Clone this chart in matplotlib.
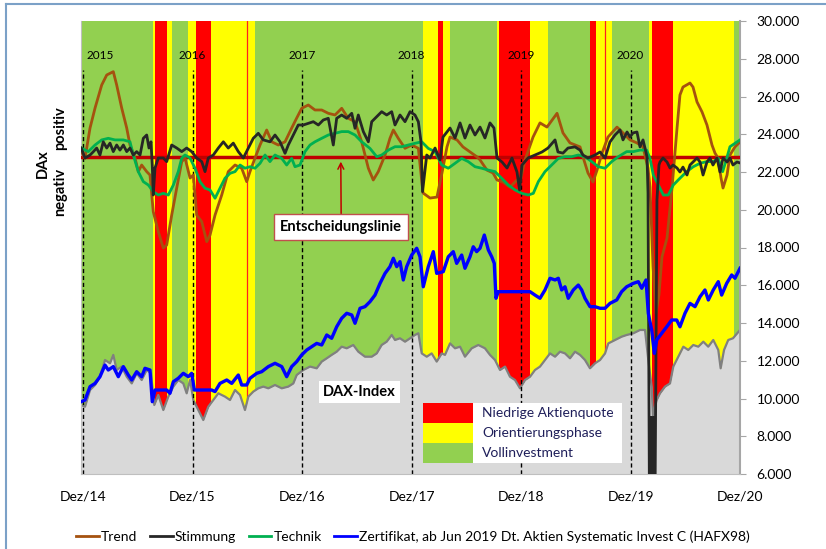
import numpy as np
import matplotlib.pyplot as plt
from matplotlib.patches import Rectangle
from matplotlib.lines import Line2D
from matplotlib.ticker import FuncFormatter

plt.rcParams['font.family'] = ['Lato', 'DejaVu Sans']

# x values are months since Dez/14
trend_m = [-0.2, 0.22, 0.77, 1.32, 2.05, 2.60, 3.32, 3.69, 4.24, 4.79,
           5.15, 5.70, 6.06, 6.43, 6.98, 7.34, 7.70, 8.25, 8.80, 9.17,
           9.72, 10.27, 10.82, 11.18, 11.73, 12.09, 12.46, 13.01, 13.56, 13.92,
           14.47, 15.20, 15.92, 16.66, 17.39, 17.94, 18.30, 18.85, 19.40, 20.13,
           20.68, 21.40, 22.14, 22.87, 23.42, 23.97, 24.69, 25.42, 26.16, 26.88,
           27.62, 28.35, 29.07, 29.81, 30.54, 31.27, 31.81, 32.36, 33.10, 33.64,
           34.01, 34.55, 35.29, 36.02, 36.75, 37.26, 38.03, 38.79, 39.34, 39.89,
           40.22, 40.99, 41.64, 43.18, 43.51, 44.27, 44.93, 45.37, 46.03, 46.79,
           47.56, 47.89, 48.44, 49.32, 50.08, 50.85, 51.95, 52.60, 53.37, 54.47,
           54.79, 55.34, 55.89, 56.33, 56.88, 57.53, 58.52, 59.18, 59.95, 60.71,
           61.37, 61.92, 62.14, 62.47, 62.79, 63.12, 63.45, 64.00, 64.55, 65.10,
           65.42, 65.75, 66.52, 66.85, 67.29, 67.84, 68.38, 68.93, 69.26, 69.59,
           69.92, 70.14, 70.58, 70.90, 71.45, 72.0]
trend_v = [23080, 22740, 24330, 25390, 26610, 27140, 27315, 26610, 25390, 24330,
           23430, 22740, 22020, 22370, 22020, 21840, 19900, 18840, 17970, 18130,
           19720, 21150, 22550, 22740, 21680, 21840, 19720, 19370, 18310, 18660,
           19720, 20780, 22020, 22370, 22200, 21490, 22020, 22740, 23430, 24225,
           23600, 23430, 23600, 24330, 24860, 25375, 25550, 25285, 25285, 25110,
           25020, 25375, 24845, 24665, 23600, 22200, 21576, 22020, 22900, 23785,
           24225, 23785, 23255, 23430, 23255, 20890, 20620, 20670, 21950, 23330,
           23850, 23700, 23330, 22800, 22640, 22100, 21950, 21576, 21470, 21200,
           21576, 21470, 22640, 23850, 24600, 24380, 25110, 24070, 23540, 23330,
           22800, 21950, 21470, 22100, 23000, 23850, 24380, 24070, 23700, 23540,
           23330, 22200, 21200, 17000, 14500, 15500, 17500, 18500, 21150, 24330,
           26080, 26500, 26715, 26500, 25710, 25180, 24490, 23430, 23000, 22740,
           21680, 21150, 21840, 22900, 23330, 23590]

stimmung_m = [-0.2, 0.22, 0.77, 1.10, 1.50, 1.86, 2.22, 2.60, 2.96, 3.32,
              3.69, 4.05, 4.42, 4.79, 5.15, 5.51, 5.88, 6.25, 6.61, 6.98,
              7.23, 7.45, 7.59, 7.70, 7.89, 8.25, 8.80, 9.17, 9.72, 10.27,
              10.82, 11.36, 11.91, 12.46, 13.01, 13.37, 13.73, 14.28, 14.83, 15.38,
              15.92, 16.47, 17.02, 17.57, 18.12, 18.66, 19.21, 19.76, 20.49, 21.04,
              21.59, 22.14, 22.50, 23.05, 23.59, 24.14, 24.69, 25.24, 25.79, 26.33,
              26.88, 27.43, 27.80, 28.35, 28.90, 29.45, 29.81, 30.17, 30.72, 31.27,
              31.64, 32.19, 32.73, 33.28, 33.83, 34.19, 34.74, 35.29, 35.84, 36.38,
              36.75, 37.04, 37.21, 37.67, 38.03, 38.58, 39.12, 39.45, 40.22, 40.77,
              41.32, 41.86, 42.41, 42.96, 43.51, 44.05, 44.60, 45.04, 45.37, 45.92,
              46.47, 47.01, 47.56, 47.84, 48.11, 48.77, 49.53, 50.30, 50.96, 51.73,
              52.05, 52.60, 53.15, 53.92, 54.47, 54.79, 55.34, 56.11, 56.66, 57.21,
              57.75, 58.30, 58.52, 58.85, 59.18, 59.62, 59.95, 60.27, 60.71, 61.04,
              61.37, 61.59, 61.81, 61.92, 62.08, 62.18, 62.28, 62.38, 62.48, 62.58,
              62.68, 62.90, 63.12,
              63.23, 63.56, 64.00, 64.33, 64.66, 65.10, 65.42, 65.75, 66.19, 66.52,
              66.85, 67.29, 67.62, 67.95, 68.38, 68.71, 69.04, 69.48, 69.81, 70.14,
              70.58, 70.90, 71.23, 71.67, 72.0]
stimmung_v = [23270, 22740, 22900, 23060, 23270, 22900, 23600, 23270, 23530, 23080,
              23430, 23160, 23430, 23080, 23270, 22900, 23080, 22900, 23785, 23960,
              23270, 23600, 22370, 20780, 22210, 22740, 22740, 22550, 23430, 23270,
              23080, 23270, 23080, 22740, 22550, 22020, 22740, 22900, 23270, 23600,
              23270, 23530, 23080, 22740, 23270, 23785, 24050, 23700, 23600, 23960,
              23600, 22990, 23430, 23960, 24490, 24490, 24580, 24665, 24490, 24755,
              24845, 23430, 24845, 25020, 24845, 25110, 24315, 25020, 24140, 23600,
              24665, 24930, 25195, 25020, 25195, 24490, 25020, 24665, 25195, 25020,
              24665, 23600, 20960, 22900, 22740, 23270, 22640, 23850, 24330, 23800,
              24600, 23800, 24490, 23960, 24380, 23800, 24600, 24330, 22740, 22530,
              22210, 22740, 22000, 21050, 22370, 22740, 22900, 23060, 23270, 23700,
              23060, 23000, 23270, 23330, 23160, 22900, 22740, 22900, 23060, 22740,
              23590, 23960, 24070, 24230, 23700, 24120, 23850, 24070, 24120, 23330,
              23700, 23270, 22800, 20890, 4000, 9000, 4000, 9000, 4000, 9000,
              4000, 20520, 22370,
              22530, 22740, 22530, 22210, 22370, 22210, 22000, 22260, 21840, 22370,
              22530, 22740, 22530, 21840, 22530, 22740, 22370, 22740, 22000, 22740,
              22530, 22740, 22370, 22530, 22480]

technik_m = [-0.2, 0.58, 1.32, 2.05, 2.77, 3.51, 4.42, 5.15, 5.51, 6.06,
             6.61, 7.16, 7.70, 8.25, 8.80, 9.35, 9.90, 10.44, 10.82, 11.18,
             11.73, 12.27, 12.82, 13.37, 13.92, 14.47, 15.01, 15.56, 16.11, 16.66,
             17.21, 17.75, 18.30, 18.85, 19.40, 19.95, 20.49, 21.04, 21.78, 22.32,
             22.87, 23.23, 23.78, 24.33, 24.88, 25.42, 26.16, 26.88, 27.62, 28.35,
             29.07, 29.81, 30.54, 31.45, 32.19, 32.73, 33.46, 34.19, 34.93, 35.65,
             36.38, 37.12, 37.84, 38.58, 39.31, 40.03, 40.77, 41.50, 42.22, 42.96,
             43.69, 44.42, 45.15, 45.88, 46.61, 47.34, 48.08, 48.80, 49.35, 49.90,
             50.63, 51.36, 52.09, 52.82, 53.56, 54.28, 55.01, 55.75, 56.47, 57.21,
             57.94, 58.66, 59.58, 60.31, 61.04, 61.77, 62.14, 62.50, 63.05, 63.60,
             64.14, 64.69, 65.42, 66.16, 66.88, 67.62, 68.35, 69.07, 69.62, 70.10,
             70.54, 70.90, 71.45, 72.0]
technik_v = [23270, 23080, 23430, 23700, 23785, 23700, 23700, 23600, 22900, 22020,
             21490, 21310, 20960, 20780, 20870, 20780, 21310, 22020, 22740, 22900,
             22740, 22200, 21490, 21140, 21050, 20610, 21140, 21670, 21930, 22020,
             22370, 22200, 22280, 22200, 22460, 22900, 22550, 22900, 22720, 22370,
             22720, 22280, 22370, 23080, 23430, 23600, 23785, 23960, 24050, 24140,
             24140, 23960, 23600, 23250, 22810, 22900, 23160, 23340, 23340, 23430,
             23520, 23600, 23250, 23080, 22370, 22200, 22460, 22720, 22550, 22280,
             22200, 22100, 22020, 21670, 21310, 21050, 20870, 20780, 20870, 21490,
             22020, 22370, 22720, 22810, 22810, 22900, 22810, 22550, 22280, 22200,
             22550, 22810, 23080, 23080, 23160, 23160, 22720, 21840, 21310, 20780,
             20780, 21310, 21670, 22020, 22280, 22460, 22550, 22550, 22720, 22020,
             22720, 23340, 23520, 23700]

zert_m = [-0.2, 0.22, 0.77, 1.32, 1.86, 2.41, 2.77, 3.32, 3.87, 4.42,
          4.96, 5.34, 5.88, 6.43, 6.79, 7.34, 7.59, 7.89, 9.17, 9.53,
          9.90, 10.44, 10.99, 11.54, 11.91, 12.20, 14.10, 14.47, 15.01, 15.75,
          16.30, 17.02, 17.39, 17.94, 18.30, 19.04, 19.58, 20.31, 21.04, 21.78,
          22.32, 22.87, 23.42, 23.97, 24.52, 25.06, 25.61, 26.16, 26.71, 27.25,
          27.80, 28.35, 28.90, 29.45, 29.81, 30.36, 30.90, 31.45, 32.00, 32.55,
          33.10, 33.64, 34.01, 34.38, 34.74, 35.10, 35.47, 36.02, 36.57, 36.93,
          37.29, 37.84, 38.39, 38.76, 39.48, 40.03, 40.58, 40.95, 41.50, 41.86,
          42.41, 42.77, 43.14, 43.51, 43.98, 44.42, 44.79, 45.07, 45.26, 45.51,
          48.99, 49.53, 50.08, 50.63, 51.18, 51.73, 52.09, 52.46, 52.82, 53.18,
          53.73, 54.28, 54.65, 55.01, 55.56, 56.11, 56.66, 57.21, 57.75, 58.49,
          59.03, 59.58, 60.31, 60.86, 61.23, 61.70, 61.95, 62.32, 62.61, 62.87,
          63.42, 63.97, 64.51, 65.06, 65.42, 65.97, 66.52, 67.07, 67.62, 68.16,
          68.53, 69.07, 69.62, 69.99, 70.54, 71.09, 71.45, 72.0]
zert_v = [9830, 9920, 10630, 10800, 11155, 11770, 11510, 11690, 11155, 11690,
          11245, 10980, 11420, 11155, 11600, 11510, 9830, 10450, 10450, 10275,
          10890, 11070, 11335, 11155, 11335, 10450, 10450, 10365, 10800, 10980,
          10800, 11245, 10715, 10715, 11070, 11335, 11420, 11690, 11865, 11690,
          11155, 11690, 11955, 12310, 12570, 12745, 12920, 12835, 13365, 13190,
          13800, 14250, 14515, 14425, 13985, 14780, 14865, 15130, 15480, 16100,
          16630, 16985, 17430, 16985, 17250, 16280, 16985, 17600, 17960, 17510,
          15920, 16985, 17780, 16630, 16720, 17510, 17780, 17160, 17600, 16900,
          17510, 18040, 17780, 17960, 18660, 17870, 17510, 17160, 15310, 15660,
          15660, 15480, 15310, 15750, 16370, 16280, 16370, 15750, 15920, 15310,
          15750, 16010, 15750, 15310, 14865, 14865, 14780, 14780, 15040, 15220,
          15660, 15920, 16100, 16190, 15840, 16280, 14515, 13630, 12390, 13100,
          13455, 13800, 14160, 14160, 13800, 14515, 15040, 14865, 15390, 15750,
          15220, 15750, 16190, 15480, 16100, 16545, 16370, 16900]

dax_m = [-0.2, 0.22, 0.77, 1.32, 1.86, 2.41, 2.96, 3.32, 3.69, 4.24,
         4.79, 5.34, 5.88, 6.43, 6.98, 7.45, 7.81, 8.25, 8.80, 9.35,
         9.90, 10.44, 10.99, 11.36, 11.73, 12.09, 12.64, 13.18, 13.73, 14.28,
         14.83, 15.56, 16.11, 16.66, 17.21, 17.75, 18.12, 18.66, 19.21, 19.76,
         20.31, 21.04, 21.78, 22.50, 23.05, 23.42, 24.14, 24.88, 25.61, 26.16,
         26.71, 27.25, 27.80, 28.35, 28.90, 29.62, 30.17, 30.90, 31.64, 32.19,
         32.73, 33.28, 33.83, 34.19, 34.74, 35.29, 35.84, 36.38, 36.75, 37.12,
         37.67, 38.21, 38.76, 39.31, 39.67, 40.22, 40.77, 41.32, 41.86, 42.60,
         43.32, 44.05, 44.60, 45.15, 45.70, 46.25, 46.79, 47.34, 47.89, 48.44,
         48.99, 49.53, 50.08, 50.63, 51.18, 51.73, 52.27, 52.82, 53.37, 53.92,
         54.47, 55.01, 55.56, 56.11, 56.66, 57.21, 57.57, 58.30, 59.03, 59.58,
         60.31, 61.04, 61.59, 61.95, 62.32, 62.50, 62.68, 62.87, 63.23, 63.78,
         64.33, 64.69, 65.24, 65.79, 66.33, 66.88, 67.43, 67.98, 68.52, 69.07,
         69.62, 69.88, 70.25, 70.71, 71.23, 72.0]
dax_v = [9655, 9565, 10450, 10715, 11155, 12040, 11865, 12310, 11510, 11690,
         11155, 10800, 11335, 10980, 11510, 11335, 9655, 10185, 9390, 10100,
         10630, 10980, 10800, 10275, 10980, 9920, 9390, 8860, 9565, 9920,
         10275, 10100, 9920, 10450, 10185, 9390, 10100, 10365, 10540, 10630,
         10540, 10715, 10540, 10630, 10800, 11245, 11510, 11690, 11600, 11955,
         12130, 12310, 12480, 12745, 12660, 12835, 12480, 12215, 12215, 12390,
         12835, 13010, 13365, 13100, 13190, 13010, 13190, 13365, 13455, 12390,
         12215, 12390, 11955, 12390, 12310, 12920, 12660, 12745, 12215, 12660,
         12835, 12660, 12310, 12040, 11510, 11690, 11155, 10980, 10540, 10980,
         11155, 11510, 11690, 12040, 12390, 12215, 12480, 12390, 12130, 12480,
         12310, 12040, 11600, 11865, 12040, 12390, 12920, 13100, 13275, 13365,
         13455, 13630, 13630, 12040, 10630, 8600, 9565, 9920, 10275, 10630,
         10800, 11690, 12215, 12745, 12570, 12835, 12745, 13010, 12745, 13100,
         12570, 11600, 12570, 13100, 13190, 13630]

# phases: N = Niedrige Aktienquote, O = Orientierungsphase, V = Vollinvestment
phase_edges = [-0.22, 7.67, 7.89, 9.21, 9.75, 11.51, 12.38, 14.03, 18.85, 37.29,
               38.87, 39.48, 40.22, 45.34, 45.59, 48.99, 50.99, 55.56, 56.22, 57.94,
               62.06, 62.32, 64.62, 71.38, 72.0]
phases = ['V', 'O', 'N', 'O', 'V', 'O', 'N', 'O', 'V', 'O', 'N', 'O',
          'V', 'O', 'N', 'O', 'V', 'N', 'O', 'V', 'O', 'N', 'O', 'V']
signal_lines = [17.97, 57.26]

decision_level = 22800
year_marks = [0, 12, 24, 36, 48, 60]
year_labels = ['2015', '2016', '2017', '2018', '2019', '2020']
year_label_x = [1.9, 12, 24, 36, 48, 60]
xtick_pos = [0, 12, 24, 36, 48, 60, 72]
xtick_labels = ['Dez/14', 'Dez/15', 'Dez/16', 'Dez/17', 'Dez/18', 'Dez/19', 'Dez/20']

phase_colors = {'N': '#ff0000', 'O': '#ffff00', 'V': '#92d050'}
phase_names = {'N': 'Niedrige Aktienquote', 'O': 'Orientierungsphase', 'V': 'Vollinvestment'}

W, H = 826, 549
fig = plt.figure(figsize=(W / 100, H / 100), dpi=100)
ax = fig.add_axes([81 / W, 1 - 474 / H, (740 - 81) / W, (474 - 21) / H])

# background phases
for a, b, ph in zip(phase_edges[:-1], phase_edges[1:], phases):
    ax.axvspan(a, b, color=phase_colors[ph], lw=0, zorder=0)
for s in signal_lines:
    ax.axvline(s, color='#ff2020', lw=0.9, zorder=0.5)

# DAX index area
ax.fill_between(dax_m, 0, dax_v, color='#d9d9d9', lw=0, zorder=1)
ax.plot(dax_m, dax_v, color='#808080', lw=1.6, zorder=1.2)

# year separators
for m in year_marks:
    ax.axvline(m, ymin=0, ymax=(27400 - 6000) / 24000, color='black', lw=1.0,
               ls=(0, (3, 2)), zorder=2)
for x, lab in zip(year_label_x, year_labels):
    ax.text(x, 28150, lab, ha='center', va='center', fontsize=8.5, zorder=6)

ax.axhline(decision_level, color='#c00000', lw=2.5, zorder=3)

ax.plot(trend_m, trend_v, color='#a5520f', lw=2.0, zorder=4)
ax.plot(technik_m, technik_v, color='#00b050', lw=2.0, zorder=4.2)
ax.plot(stimmung_m, stimmung_v, color='#262626', lw=2.0, zorder=4.4)
ax.plot(zert_m, zert_v, color='#0000ff', lw=2.4, zorder=5)

ax.annotate('Entscheidungslinie', xy=(28.25, decision_level - 250), xytext=(28.3, 19090),
            ha='center', va='center', fontsize=10.5, fontweight='bold', zorder=7,
            bbox=dict(boxstyle='square,pad=0.4', fc='white', ec='#c0504d', lw=1),
            arrowprops=dict(arrowstyle='->', color='#c00000', lw=1.1,
                            shrinkA=0, shrinkB=0))
ax.text(30.3, 10340, 'DAX-Index', ha='center', va='center', fontsize=10.5,
        fontweight='bold', zorder=7,
        bbox=dict(boxstyle='square,pad=0.3', fc='white', ec='none'))

# phase legend
lx, ly, lw_box, lh = 0.519, 0.157, 0.302, 0.1325
row = lh / 3
ax.add_patch(Rectangle((lx, ly - lh), lw_box, lh, transform=ax.transAxes,
                       fc='white', ec='none', zorder=8))
for i, ph in enumerate(['N', 'O', 'V']):
    ax.add_patch(Rectangle((lx, ly - (i + 1) * row), 0.0759, row, transform=ax.transAxes,
                           fc=phase_colors[ph], ec='none', zorder=9))
    ax.text(0.6085, ly - (i + 0.5) * row, phase_names[ph], transform=ax.transAxes,
            ha='left', va='center', fontsize=10, color='#1f1f5a', zorder=9)

ax.set_xlim(-0.22, 72)
ax.set_ylim(6000, 30000)
ax.set_xticks(xtick_pos)
ax.set_xticklabels(xtick_labels)
ax.set_yticks(np.arange(6000, 30001, 2000))
ax.yaxis.set_major_formatter(FuncFormatter(lambda v, p: f'{int(v):,}'.replace(',', '.')))
ax.yaxis.tick_right()
ax.tick_params(axis='y', length=4, color='#a6a6a6', labelsize=10, pad=8)
ax.tick_params(axis='x', length=0, labelsize=10, pad=12)
ax.spines['top'].set_visible(False)
for side in ['left', 'bottom']:
    ax.spines[side].set_color('#bfbfbf')
ax.spines['right'].set_color('#a6a6a6')
ax.spines['right'].set_linewidth(1.5)

# left side labels
fig.text(43 / W, 1 - 164 / H, 'DAx', rotation=90, ha='center', va='center',
         fontsize=10.5, fontweight='bold')
fig.text(60 / W, 1 - 128 / H, 'positiv', rotation=90, ha='center', va='center',
         fontsize=10.5, fontweight='bold')
fig.text(60 / W, 1 - 192 / H, 'negativ', rotation=90, ha='center', va='center',
         fontsize=10.5, fontweight='bold')

handles = [Line2D([], [], color='#a5520f', lw=2),
           Line2D([], [], color='#262626', lw=2),
           Line2D([], [], color='#00b050', lw=2),
           Line2D([], [], color='#0000ff', lw=2)]
labels = ['Trend', 'Stimmung', 'Technik',
          'Zertifikat, ab Jun 2019 Dt. Aktien Systematic Invest C (HAFX98)']
fig.legend(handles, labels, loc='center', bbox_to_anchor=(413 / W, 1 - 537 / H),
           ncol=4, frameon=False, fontsize=10, handlelength=1.65, handletextpad=0.15,
           columnspacing=0.9)

# chart area border
fig.add_artist(Line2D([6 / W, 1], [1 - 4 / H, 1 - 4 / H], transform=fig.transFigure,
                      color='#7ba1c7', lw=1.5))
fig.add_artist(Line2D([6 / W, 6 / W], [0, 1 - 4 / H], transform=fig.transFigure,
                      color='#7ba1c7', lw=1.5))

fig.savefig('out.png', dpi=100)
